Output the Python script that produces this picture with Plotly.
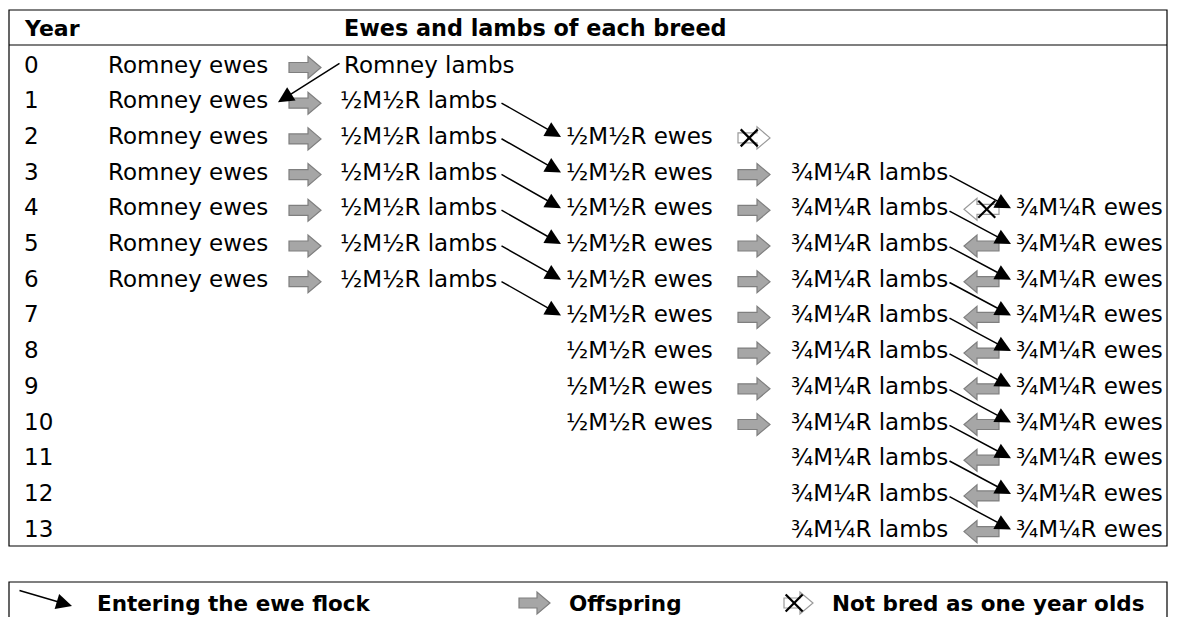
import plotly.graph_objects as go

# ---------------- data ----------------
years = [str(y) for y in range(14)]
romney_ewes = ["Romney ewes"] * 7 + [""] * 7
lambs_1 = ["Romney lambs"] + ["½M½R lambs"] * 6 + [""] * 7
half_ewes = ["", ""] + ["½M½R ewes"] * 9 + [""] * 3
quarter_lambs = ["", "", ""] + ["¾M¼R lambs"] * 11
quarter_ewes = ["", "", "", ""] + ["¾M¼R ewes"] * 10

# offspring (grey block arrows): rows for each gap
offspring_col1_rows = [0, 1, 2, 3, 4, 5, 6]
offspring_col3_rows = [3, 4, 5, 6, 7, 8, 9, 10]
offspring_col5_rows = [5, 6, 7, 8, 9, 10, 11, 12, 13]   # pointing left
not_bred_col3_rows = [2]
not_bred_col5_rows = [4]
# entering the ewe flock (black arrows): source row -> next row
enter_col2_rows = [1, 2, 3, 4, 5, 6]
enter_col4_rows = [3, 4, 5, 6, 7, 8, 9, 10, 11, 12]

header_year = "Year"
header_main = "Ewes and lambs of each breed"
legend_labels = ["Entering the ewe flock", "Offspring", "Not bred as one year olds"]

# ---------------- layout constants ----------------
W, H = 1178, 617
OFF = 8  # page body margin
FONT = "DejaVu Sans"
FS = 23
FS_LEG = 21.5
ROW0, DY = 64.5, 35.7
def ry(i):
    return ROW0 + DY * i

X_YEAR, X_C1, X_C2, X_C3, X_C4, X_C5 = 22, 106, 338, 564, 789, 1014
GREY_FILL, GREY_LINE = "#a6a6a6", "#7f7f7f"

fig = go.Figure()
fig.add_trace(go.Scatter(x=[OFF, W], y=[OFF, H], mode="markers",
                         marker=dict(opacity=0), hoverinfo="skip", showlegend=False))

shapes = []
annotations = []

def text(x, y, s, bold=False, anchor="left", size=FS):
    if not s:
        return
    annotations.append(dict(x=x, y=y, xref="x", yref="y", text=(f"<b>{s}</b>" if bold else s),
                            showarrow=False, xanchor=anchor, yanchor="middle",
                            font=dict(family=FONT, size=size, color="#000000")))

def block_arrow(x0, x1, y, direction=1, hollow=False, cross=False):
    L = x1 - x0
    hl = 13
    sh, hh = 5, 11
    if direction == 1:
        xs, xh, xt = x0, x1 - hl, x1
    else:
        xs, xh, xt = x1, x0 + hl, x0
    path = (f"M {xs},{y-sh} L {xh},{y-sh} L {xh},{y-hh} L {xt},{y} "
            f"L {xh},{y+hh} L {xh},{y+sh} L {xs},{y+sh} Z")
    shapes.append(dict(type="path", path=path, xref="x", yref="y",
                       fillcolor="#ffffff" if hollow else GREY_FILL,
                       line=dict(color="#9a9a9a" if hollow else GREY_LINE, width=1.2)))
    if cross:
        cx = x0 + L * 0.35 if direction == 1 else x1 - L * 0.35
        d = 8.5
        for a, b in [((cx - d, y - d), (cx + d, y + d)), ((cx - d, y + d), (cx + d, y - d))]:
            shapes.append(dict(type="line", x0=a[0], y0=a[1], x1=b[0], y1=b[1],
                               xref="x", yref="y", line=dict(color="#000000", width=2.2)))

def black_arrow(xt, yt, xs, ys):
    annotations.append(dict(x=xt, y=yt, ax=xs, ay=ys, xref="x", yref="y", axref="x", ayref="y",
                            text="", showarrow=True, arrowhead=2, arrowsize=2.1,
                            arrowwidth=1.5, arrowcolor="#000000", standoff=0, startstandoff=0))

# frames
shapes.append(dict(type="rect", x0=9, y0=10, x1=1167, y1=546, xref="x", yref="y",
                   line=dict(color="#000000", width=1.2)))
shapes.append(dict(type="line", x0=9, y0=45, x1=1167, y1=45, xref="x", yref="y",
                   line=dict(color="#000000", width=1.2)))
shapes.append(dict(type="rect", x0=9, y0=582, x1=1167, y1=640, xref="x", yref="y",
                   line=dict(color="#000000", width=1.2)))

# headers
text(X_YEAR, 28, header_year, bold=True, size=22)
text(535, 28, header_main, bold=True, anchor="center", size=22.3)

# rows
for i in range(len(years)):
    y = ry(i)
    text(X_YEAR, y, years[i])
    text(X_C1, y, romney_ewes[i])
    text(X_C2 + (4 if i == 0 else 0), y, lambs_1[i])
    text(X_C3, y, half_ewes[i])
    text(X_C4, y, quarter_lambs[i])
    text(X_C5, y, quarter_ewes[i])

# grey offspring arrows
for i in offspring_col1_rows:
    block_arrow(289, 321, ry(i) + 3)
for i in offspring_col3_rows:
    block_arrow(738, 770, ry(i) + 3)
for i in offspring_col5_rows:
    block_arrow(964, 999, ry(i) + 3, direction=-1)
for i in not_bred_col3_rows:
    block_arrow(738, 770, ry(i) + 2, hollow=True, cross=True)
for i in not_bred_col5_rows:
    block_arrow(964, 999, ry(i) + 2, direction=-1, hollow=True, cross=True)

# black entering arrows
black_arrow(278, ry(1) + 2, 341, ry(0) - 2)
for i in enter_col2_rows:
    black_arrow(561, ry(i + 1) + 1, 500, ry(i) + 2)
for i in enter_col4_rows:
    black_arrow(1011, ry(i + 1) + 1, 948, ry(i) + 3)

# legend
black_arrow(72, 606, 18, 590)
text(95, 603, legend_labels[0], bold=True, size=FS_LEG)
block_arrow(519, 550, 603)
text(567, 603, legend_labels[1], bold=True, size=FS_LEG)
block_arrow(784, 813, 603, hollow=True, cross=True)
text(830, 603, legend_labels[2], bold=True, size=FS_LEG)

fig.update_layout(
    width=W - OFF, height=H - OFF, margin=dict(l=0, r=0, t=0, b=0),
    paper_bgcolor="#ffffff", plot_bgcolor="#ffffff",
    xaxis=dict(range=[OFF, W], visible=False, fixedrange=True),
    yaxis=dict(range=[H, OFF], visible=False, fixedrange=True),
    shapes=shapes, annotations=annotations, showlegend=False,
)
fig.write_html("out.html")
